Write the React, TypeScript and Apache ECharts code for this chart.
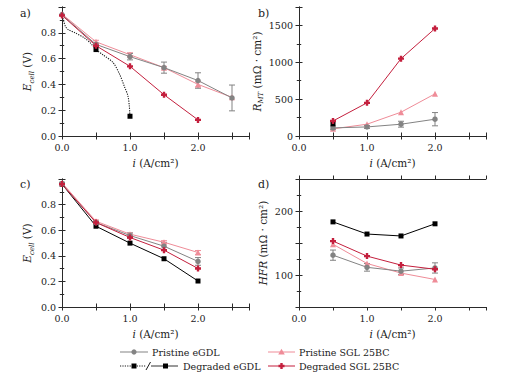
import React, { useEffect, useRef } from "react";
import * as echarts from "echarts";

// ---------- data ----------
// Panel a) polarization curves E_cell (V) vs i (A/cm2)
const aX = [0, 0.5, 1.0, 1.5, 2.0, 2.5];
const aPristineEgdl = [0.94, 0.71, 0.615, 0.53, 0.43, 0.295];
const aPristineEgdlErr = [0, 0.01, 0.025, 0.043, 0.06, 0.1];
const aPristineSgl = [0.945, 0.73, 0.63, 0.53, 0.40, 0.30];
const aPristineSglErr = [0, 0.012, 0.015, 0.01, 0.02, 0];
const aDegradedSglX = [0, 0.5, 1.0, 1.5, 2.0];
const aDegradedSgl = [0.935, 0.70, 0.54, 0.32, 0.125];
const aDegradedEgdlCurveX = [0, 0.01, 0.025, 0.05, 0.09, 0.19, 0.33, 0.42, 0.5, 0.6, 0.75, 0.85, 0.92, 0.97, 0.99, 1.0];
const aDegradedEgdlCurveY = [0.95, 0.92, 0.89, 0.85, 0.825, 0.80, 0.76, 0.72, 0.67, 0.63, 0.57, 0.475, 0.38, 0.31, 0.23, 0.15];
const aDegradedEgdlPtsX = [0.5, 1.0];
const aDegradedEgdlPtsY = [0.67, 0.153];

// Panel b) R_MT (mOhm cm2)
const bX = [0.5, 1.0, 1.5, 2.0];
const bPristineEgdl = [110, 123, 160, 228];
const bPristineEgdlErr = [25, 20, 40, 90];
const bPristineSgl = [97, 160, 323, 572];
const bDegradedSgl = [204, 450, 1049, 1458];
const bDegradedEgdlX = [0.5];
const bDegradedEgdl = [165];

// Panel c) E_cell after degradation
const cX = [0, 0.5, 1.0, 1.5, 2.0];
const cPristineEgdl = [0.96, 0.66, 0.558, 0.475, 0.356];
const cPristineEgdlErr = [0, 0.012, 0.02, 0.03, 0.03];
const cPristineSgl = [0.97, 0.67, 0.569, 0.506, 0.426];
const cPristineSglErr = [0, 0.01, 0.01, 0.012, 0.015];
const cDegradedSgl = [0.96, 0.66, 0.543, 0.444, 0.301];
const cDegradedEgdl = [0.96, 0.631, 0.499, 0.377, 0.203];

// Panel d) HFR (mOhm cm2)
const dX = [0.5, 1.0, 1.5, 2.0];
const dPristineEgdl = [131, 112, 106, 111];
const dPristineEgdlErr = [8, 6, 5, 8];
const dPristineSgl = [148, 118, 103, 93];
const dDegradedSgl = [153, 129.5, 115.5, 109];
const dDegradedEgdl = [183, 164, 161, 180];

const xTickLabels = ["0.0", "1.0", "2.0"];

// ---------- styles ----------
const GRAY = "#838383";
const PINK = "#ef8c98";
const CRIMSON = "#c41f3d";
const BLACK = "#000000";
const AXIS = "#2a2a2a";
const FONT = "DejaVu Serif";
const FS = 9.5;
const PLUS = "path://M3,0H7V3H10V7H7V10H3V7H0V3H3Z";

const grids = [
  { left: 62, top: 7, width: 187, height: 129 },
  { left: 299, top: 7, width: 187, height: 129 },
  { left: 62, top: 179, width: 187, height: 128 },
  { left: 299, top: 179, width: 187, height: 128 },
];

const zip = (xs: number[], ys: number[]) => xs.map((x, i) => [x, ys[i]]);
const zip3 = (xs: number[], ys: number[], es: number[]) =>
  xs.map((x, i) => [x, ys[i], es[i]]);

const richBase = {
  it: { fontFamily: FONT, fontSize: 10.5, fontStyle: "italic", color: "#222", lineHeight: 16 },
  n: { fontFamily: FONT, fontSize: 10.5, color: "#222", lineHeight: 16 },
  sub: {
    fontFamily: FONT,
    fontSize: 7,
    fontStyle: "italic",
    color: "#222",
    lineHeight: 16,
    verticalAlign: "bottom",
  },
};

function xAxes(g: number) {
  const common = {
    gridIndex: g,
    type: "value",
    min: 0,
    max: 2.75,
    interval: 1,
    axisLine: { show: true, lineStyle: { color: AXIS, width: 1 } },
    axisTick: { show: true, inside: false, length: 3.5, lineStyle: { color: AXIS } },
    minorTick: { show: true, splitNumber: 2, length: 3.5, lineStyle: { color: AXIS } },
    splitLine: { show: false },
    minorSplitLine: { show: false },
  };
  return [
    {
      ...common,
      position: "bottom",
      axisLabel: {
        show: true,
        showMaxLabel: false,
        margin: 6,
        fontFamily: FONT,
        fontSize: FS,
        color: "#222",
        formatter: (v: number) => {
          const i = Math.round(v);
          return Math.abs(v - i) < 1e-6 && i < xTickLabels.length ? xTickLabels[i] : "";
        },
      },
      name: "{it|i}{n| (A/cm²)}",
      nameLocation: "middle",
      nameGap: 19,
      nameTextStyle: { fontFamily: FONT, rich: richBase },
    },
    { ...common, position: "top", axisLabel: { show: false } },
  ];
}

function yAxes(g: number, cfg: any) {
  const common = {
    gridIndex: g,
    type: "value",
    min: cfg.min,
    max: cfg.max,
    interval: cfg.interval,
    axisLine: { show: true, lineStyle: { color: AXIS, width: 1 } },
    axisTick: { show: true, inside: false, length: 3.5, lineStyle: { color: AXIS } },
    minorTick: { show: true, splitNumber: 2, length: 2.2, lineStyle: { color: AXIS } },
    splitLine: { show: false },
    minorSplitLine: { show: false },
  };
  return [
    {
      ...common,
      position: "left",
      axisLabel: {
        show: true,
        showMaxLabel: false,
        margin: 6,
        fontFamily: FONT,
        fontSize: FS,
        color: "#222",
        formatter: cfg.formatter,
      },
      name: cfg.name,
      nameLocation: "middle",
      nameGap: cfg.nameGap,
      nameRotate: 90,
      nameTextStyle: { fontFamily: FONT, rich: richBase },
    },
    { ...common, position: "right", axisLabel: { show: false } },
  ];
}

function lineSeries(g: number, data: number[][], color: string, symbol: string, size: number, extra: any = {}) {
  return {
    type: "line",
    xAxisIndex: g * 2,
    yAxisIndex: g * 2,
    data,
    symbol,
    symbolSize: size,
    showSymbol: true,
    itemStyle: { color },
    lineStyle: { color, width: 1 },
    ...extra,
  };
}

function errSeries(g: number, data: number[][], color: string) {
  return {
    type: "custom",
    xAxisIndex: g * 2,
    yAxisIndex: g * 2,
    data,
    z: 3,
    renderItem: (_p: any, api: any) => {
      const x = api.value(0);
      const y = api.value(1);
      const e = api.value(2);
      if (!e) return { type: "group", children: [] };
      const t = api.coord([x, y + e]);
      const b = api.coord([x, y - e]);
      const w = 3;
      const st = { stroke: color, lineWidth: 1 };
      return {
        type: "group",
        children: [
          { type: "line", shape: { x1: t[0], y1: t[1], x2: b[0], y2: b[1] }, style: st },
          { type: "line", shape: { x1: t[0] - w, y1: t[1], x2: t[0] + w, y2: t[1] }, style: st },
          { type: "line", shape: { x1: b[0] - w, y1: b[1], x2: b[0] + w, y2: b[1] }, style: st },
        ],
      };
    },
  };
}

const fmt1 = (v: number) => {
  const r = Math.round(v * 10) / 10;
  return r > 0.85 ? "" : r.toFixed(1);
};

function buildOption() {
  const xAxis = [0, 1, 2, 3].flatMap((g) => xAxes(g));
  const yAxis = [
    ...yAxes(0, { min: 0, max: 1, interval: 0.2, formatter: fmt1, nameGap: 27, name: "{it|E}{sub|cell}{n| (V)}" }),
    ...yAxes(1, {
      min: 0,
      max: 1750,
      interval: 500,
      formatter: (v: number) => (v > 1600 ? "" : String(v)),
      nameGap: 28,
      name: "{it|R}{sub|MT}{n| (mΩ · cm²)}",
    }),
    ...yAxes(2, { min: 0, max: 1, interval: 0.2, formatter: fmt1, nameGap: 27, name: "{it|E}{sub|cell}{n| (V)}" }),
    ...yAxes(3, {
      min: 50,
      max: 250,
      interval: 50,
      formatter: (v: number) => (v === 100 || v === 200 ? String(v) : ""),
      nameGap: 28,
      name: "{it|HFR}{n| (mΩ · cm²)}",
    }),
  ];

  const series: any[] = [
    // panel a
    lineSeries(0, zip(aDegradedEgdlCurveX, aDegradedEgdlCurveY), "#1a1a1a", "none", 0, {
      lineStyle: { color: "#1a1a1a", width: 1.1, type: [1.2, 1.2] },
      smooth: 0.3,
    }),
    lineSeries(0, zip(aDegradedEgdlPtsX, aDegradedEgdlPtsY), BLACK, "rect", 5, { lineStyle: { width: 0, opacity: 0 } }),
    lineSeries(0, zip(aX, aPristineSgl), PINK, "triangle", 6),
    errSeries(0, zip3(aX, aPristineSgl, aPristineSglErr), PINK),
    lineSeries(0, zip(aX, aPristineEgdl), GRAY, "circle", 5.5),
    errSeries(0, zip3(aX, aPristineEgdl, aPristineEgdlErr), GRAY),
    lineSeries(0, zip(aDegradedSglX, aDegradedSgl), CRIMSON, PLUS, 6),
    // panel b
    lineSeries(1, zip(bX, bPristineSgl), PINK, "triangle", 6),
    lineSeries(1, zip(bX, bPristineEgdl), GRAY, "circle", 5.5),
    errSeries(1, zip3(bX, bPristineEgdl, bPristineEgdlErr), GRAY),
    lineSeries(1, zip(bDegradedEgdlX, bDegradedEgdl), BLACK, "rect", 5),
    lineSeries(1, zip(bX, bDegradedSgl), CRIMSON, PLUS, 6),
    // panel c
    lineSeries(2, zip(cX, cDegradedEgdl), BLACK, "rect", 5),
    lineSeries(2, zip(cX, cPristineSgl), PINK, "triangle", 6),
    errSeries(2, zip3(cX, cPristineSgl, cPristineSglErr), PINK),
    lineSeries(2, zip(cX, cPristineEgdl), GRAY, "circle", 5.5),
    errSeries(2, zip3(cX, cPristineEgdl, cPristineEgdlErr), GRAY),
    lineSeries(2, zip(cX, cDegradedSgl), CRIMSON, PLUS, 6),
    // panel d
    lineSeries(3, zip(dX, dDegradedEgdl), BLACK, "rect", 5),
    lineSeries(3, zip(dX, dPristineSgl), PINK, "triangle", 6),
    lineSeries(3, zip(dX, dPristineEgdl), GRAY, "circle", 5.5),
    errSeries(3, zip3(dX, dPristineEgdl, dPristineEgdlErr), GRAY),
    lineSeries(3, zip(dX, dDegradedSgl), CRIMSON, PLUS, 6),
  ];

  const txt = (x: number, y: number, text: string, size = 9.5) => ({
    type: "text",
    x,
    y,
    style: { text, fontFamily: FONT, fontSize: size, fill: "#222", verticalAlign: "middle", align: "left" },
  });
  const ln = (x1: number, y1: number, x2: number, y2: number, stroke: string, dash?: number[]) => ({
    type: "line",
    shape: { x1, y1, x2, y2 },
    style: { stroke, lineWidth: 1, lineDash: dash },
  });
  const r1 = 352;
  const r2 = 366;
  const graphic: any[] = [
    txt(20, 13, "a)", 11),
    txt(258, 13, "b)", 11),
    txt(20, 184, "c)", 11),
    txt(258, 184, "d)", 11),
    // legend row 1
    ln(120, r1, 148, r1, GRAY),
    { type: "circle", shape: { cx: 134, cy: r1, r: 2.6 }, style: { fill: GRAY } },
    txt(152, r1, "Pristine eGDL"),
    ln(268, r1, 295, r1, PINK),
    { type: "polygon", shape: { points: [[281.5, r1 - 3.2], [284.8, r1 + 2.4], [278.2, r1 + 2.4]] }, style: { fill: PINK } },
    txt(299, r1, "Pristine SGL 25BC"),
    // legend row 2
    ln(120, r2, 146, r2, "#1a1a1a", [1.2, 1.2]),
    { type: "rect", shape: { x: 131.5, y: r2 - 2.5, width: 5, height: 5 }, style: { fill: BLACK } },
    ln(146, r2 + 4, 150.5, r2 - 4, "#1a1a1a"),
    ln(151, r2, 178, r2, "#333"),
    { type: "rect", shape: { x: 163, y: r2 - 2.5, width: 5, height: 5 }, style: { fill: BLACK } },
    txt(183, r2, "Degraded eGDL"),
    ln(268, r2, 295, r2, CRIMSON),
    {
      type: "polygon",
      shape: {
        points: [
          [280.3, r2 - 3], [282.7, r2 - 3], [282.7, r2 - 1.2], [284.5, r2 - 1.2], [284.5, r2 + 1.2], [282.7, r2 + 1.2],
          [282.7, r2 + 3], [280.3, r2 + 3], [280.3, r2 + 1.2], [278.5, r2 + 1.2], [278.5, r2 - 1.2], [280.3, r2 - 1.2],
        ],
      },
      style: { fill: CRIMSON },
    },
    txt(299, r2, "Degraded SGL 25BC"),
  ];

  return {
    animation: false,
    backgroundColor: "#ffffff",
    textStyle: { fontFamily: FONT },
    grid: grids.map((g) => ({ ...g, containLabel: false })),
    xAxis,
    yAxis,
    series,
    graphic,
  };
}

export default function App() {
  const ref = useRef<HTMLDivElement>(null);
  useEffect(() => {
    if (!ref.current) return;
    const chart = echarts.init(ref.current, undefined, { renderer: "svg" });
    chart.setOption(buildOption() as any);
    return () => chart.dispose();
  }, []);
  return (
    <div
      ref={ref}
      style={{ position: "fixed", left: 0, top: 0, width: 509, height: 379, background: "#fff" }}
    />
  );
}
